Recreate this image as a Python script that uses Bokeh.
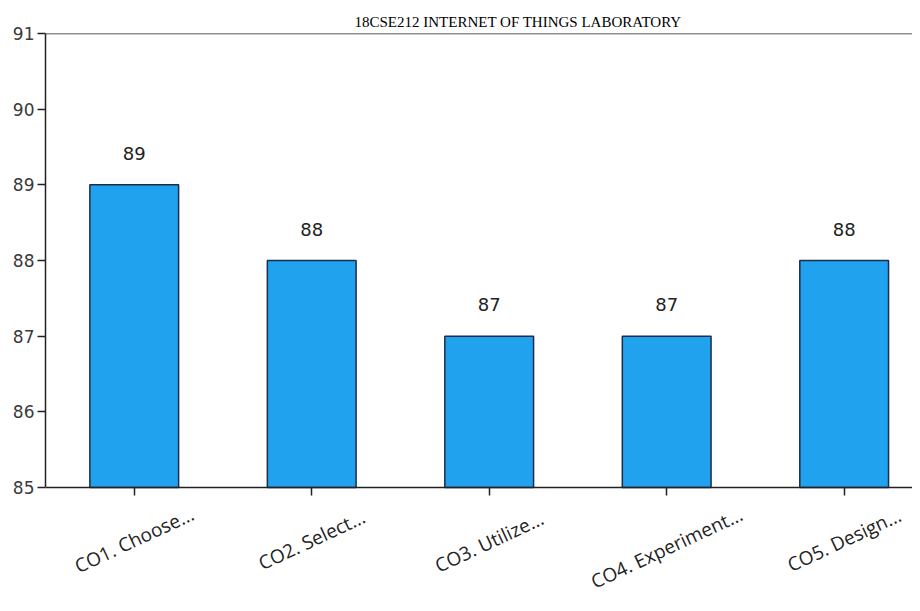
import math
import numpy as np
from bokeh.plotting import figure
from bokeh.models import ColumnDataSource, LabelSet, Range1d, FixedTicker, Span, LinearAxis
from bokeh.core.properties import value
from bokeh.embed import file_html
from bokeh.resources import INLINE

categories = ["CO1. Choose...", "CO2. Select...", "CO3. Utilize...", "CO4. Experiment...", "CO5. Design..."]
values = [89, 88, 87, 87, 88]
y_ticks = [85, 86, 87, 88, 89, 90, 91]
title = "18CSE212 INTERNET OF THINGS LABORATORY"

# rotated category labels: centred on the tick, pushed down by half their rotated height
LABEL_ANGLE = 25
LABEL_SIZE = 19
ang = math.radians(LABEL_ANGLE)
def label_drop(text):
    est_len = 9.4 * len(text)
    return -(16 + 0.5 * (est_len * math.sin(ang) + LABEL_SIZE * math.cos(ang)))

xs = list(np.arange(len(categories)) + 0.5)
src = ColumnDataSource(dict(
    x=xs, top=values, cat=categories,
    vlab=[str(v) for v in values],
    base=[y_ticks[0]] * len(values),
    drop=[label_drop(c) for c in categories],
))

W, H = 912, 603
p = figure(width=W, height=H, output_backend="svg", toolbar_location=None,
           x_range=Range1d(0, 4.885), y_range=Range1d(83.467, 91),
           x_axis_location=None,
           min_border_left=45, min_border_right=0, min_border_top=33, min_border_bottom=0)
p.title.text = title
p.title.text_font = "Liberation Serif"
p.title.text_font_size = "15px"
p.title.text_font_style = "normal"
p.title.text_color = "#000000"
p.title.align = "left"
p.title.offset = 309
p.title.standoff = 7

p.vbar(x="x", top="top", bottom=y_ticks[0], width=0.5, source=src,
       fill_color="#20a2ef", line_color="#1c2c4a", line_width=1.5)

p.add_layout(Span(location=y_ticks[-1], dimension="width", line_color="#222222", line_width=1.5))

p.grid.visible = False
p.outline_line_color = None
p.background_fill_color = "white"
p.border_fill_color = "white"

ya = p.yaxis[0]
ya.ticker = FixedTicker(ticks=y_ticks)
ya.bounds = (y_ticks[0], y_ticks[-1])
ya.axis_line_color = "#222222"
ya.axis_line_width = 1.5
ya.major_tick_out = 8
ya.major_tick_in = 0
ya.minor_tick_line_color = None
ya.major_tick_line_color = "#222222"
ya.major_tick_line_width = 1.5
ya.major_label_text_font = "DejaVu Sans"
ya.major_label_text_font_size = "17px"
ya.major_label_text_color = "#3a3a3a"
ya.major_label_standoff = 3

xa = LinearAxis(fixed_location=y_ticks[0], ticker=FixedTicker(ticks=[], minor_ticks=xs))
xa.axis_line_color = "#222222"
xa.axis_line_width = 1.5
xa.minor_tick_out = 8
xa.minor_tick_in = 0
xa.minor_tick_line_color = "#222222"
xa.minor_tick_line_width = 1.5
xa.major_tick_line_color = None
p.add_layout(xa, "below")

p.add_layout(LabelSet(x="x", y="top", text="vlab", source=src, y_offset=25,
                      text_align="center", text_baseline="bottom",
                      text_font=value("DejaVu Sans"), text_font_size=value("18px"),
                      text_color="#222222"))

p.add_layout(LabelSet(x="x", y="base", text="cat", source=src, y_offset="drop",
                      angle=LABEL_ANGLE, angle_units="deg",
                      text_align="center", text_baseline="middle",
                      text_font=value("Open Sans"), text_font_size=value(f"{LABEL_SIZE}px"),
                      text_color="#222222"))

open("out.html", "w").write(file_html(p, INLINE))
